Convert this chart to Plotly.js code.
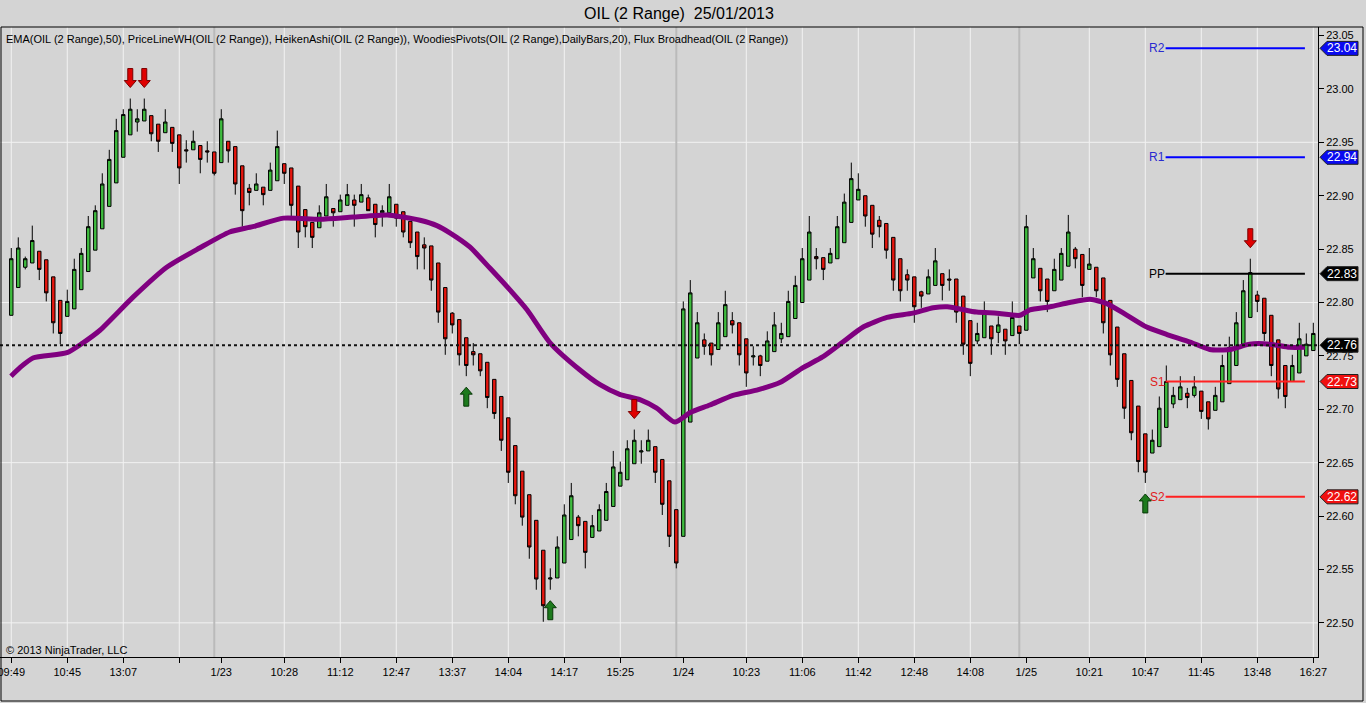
<!DOCTYPE html>
<html><head><meta charset="utf-8">
<script src="https://cdn.plot.ly/plotly-3.0.1.min.js"></script>
<style>html,body{margin:0;padding:0;background:#d4d4d4;overflow:hidden}#chart{width:1366px;height:703px}</style>
</head><body><div id="chart"></div>
<script>
// Heiken Ashi bars (OIL 2 Range)
const opens = [22.788,22.814,22.833,22.837,22.848,22.840,22.824,22.802,22.787,22.794,22.812,22.829,22.849,22.869,22.890,22.912,22.936,22.957,22.969,22.970,
22.975,22.967,22.959,22.964,22.957,22.943,22.943,22.947,22.942,22.941,22.931,22.951,22.946,22.928,22.907,22.905,22.908,22.905,22.914,22.930,
22.926,22.909,22.887,22.875,22.870,22.881,22.888,22.885,22.891,22.896,22.894,22.898,22.892,22.884,22.884,22.892,22.885,22.876,22.866,22.854,
22.853,22.837,22.814,22.790,22.784,22.767,22.754,22.752,22.744,22.728,22.712,22.692,22.666,22.642,22.620,22.596,22.568,22.541,22.542,22.556,
22.578,22.599,22.595,22.580,22.586,22.596,22.609,22.628,22.634,22.649,22.660,22.661,22.665,22.653,22.633,22.606,22.581,22.688,22.748,22.765,
22.762,22.756,22.768,22.783,22.781,22.766,22.749,22.750,22.745,22.754,22.766,22.768,22.785,22.800,22.821,22.843,22.842,22.837,22.841,22.856,
22.875,22.896,22.900,22.891,22.877,22.874,22.861,22.841,22.826,22.824,22.810,22.808,22.816,22.827,22.822,22.822,22.806,22.783,22.764,22.767,
22.778,22.772,22.775,22.769,22.778,22.774,22.823,22.832,22.822,22.811,22.821,22.834,22.850,22.845,22.831,22.833,22.823,22.802,22.777,22.752,
22.727,22.703,22.677,22.659,22.665,22.683,22.705,22.709,22.715,22.713,22.717,22.707,22.699,22.707,22.724,22.741,22.761,22.786,22.807,22.804,
22.788,22.765,22.741,22.726,22.734,22.750,22.755];
const highs = [22.851,22.861,22.843,22.872,22.848,22.840,22.824,22.802,22.812,22.841,22.851,22.881,22.891,22.921,22.943,22.972,22.981,22.991,22.981,22.991,
22.975,22.967,22.981,22.964,22.957,22.952,22.961,22.947,22.951,22.941,22.981,22.951,22.946,22.928,22.911,22.921,22.908,22.931,22.961,22.930,
22.926,22.909,22.887,22.875,22.891,22.911,22.888,22.901,22.911,22.901,22.911,22.901,22.892,22.891,22.911,22.892,22.885,22.876,22.866,22.861,
22.853,22.837,22.814,22.791,22.784,22.767,22.762,22.752,22.744,22.728,22.712,22.692,22.666,22.642,22.620,22.596,22.568,22.551,22.581,22.611,
22.631,22.601,22.595,22.601,22.611,22.631,22.661,22.651,22.671,22.681,22.671,22.681,22.665,22.653,22.633,22.606,22.801,22.821,22.791,22.771,
22.762,22.791,22.811,22.791,22.781,22.766,22.759,22.751,22.773,22.791,22.781,22.811,22.825,22.851,22.881,22.851,22.842,22.851,22.881,22.902,
22.931,22.921,22.900,22.891,22.881,22.874,22.861,22.841,22.831,22.824,22.811,22.831,22.851,22.827,22.831,22.822,22.806,22.783,22.781,22.801,
22.778,22.787,22.775,22.801,22.778,22.882,22.851,22.832,22.822,22.841,22.851,22.882,22.852,22.845,22.851,22.833,22.823,22.802,22.777,22.752,
22.727,22.703,22.677,22.681,22.712,22.741,22.721,22.731,22.720,22.731,22.717,22.707,22.721,22.751,22.768,22.791,22.821,22.841,22.811,22.804,
22.788,22.765,22.741,22.751,22.781,22.771,22.781];
const lows = [22.788,22.814,22.831,22.837,22.821,22.801,22.771,22.761,22.787,22.794,22.812,22.829,22.849,22.869,22.890,22.912,22.936,22.957,22.960,22.970,
22.951,22.941,22.959,22.941,22.911,22.931,22.943,22.921,22.931,22.919,22.931,22.931,22.901,22.871,22.891,22.905,22.891,22.905,22.914,22.911,
22.881,22.851,22.861,22.851,22.870,22.881,22.871,22.885,22.891,22.871,22.894,22.886,22.861,22.871,22.884,22.871,22.861,22.851,22.831,22.831,
22.811,22.781,22.751,22.771,22.741,22.731,22.741,22.731,22.701,22.691,22.661,22.631,22.611,22.591,22.560,22.531,22.501,22.531,22.542,22.556,
22.578,22.581,22.551,22.580,22.586,22.596,22.609,22.628,22.634,22.649,22.649,22.661,22.631,22.601,22.571,22.551,22.581,22.688,22.748,22.751,
22.741,22.756,22.768,22.771,22.741,22.721,22.741,22.731,22.745,22.754,22.762,22.768,22.785,22.800,22.821,22.831,22.821,22.837,22.841,22.856,
22.875,22.896,22.871,22.851,22.861,22.841,22.811,22.801,22.811,22.781,22.795,22.808,22.816,22.802,22.811,22.781,22.751,22.731,22.761,22.767,
22.751,22.762,22.751,22.769,22.761,22.774,22.823,22.801,22.791,22.811,22.821,22.834,22.832,22.805,22.831,22.805,22.771,22.741,22.721,22.691,
22.671,22.641,22.631,22.659,22.665,22.683,22.701,22.709,22.701,22.711,22.691,22.681,22.699,22.707,22.724,22.741,22.761,22.786,22.791,22.764,
22.731,22.710,22.701,22.726,22.734,22.750,22.755];
const closes = [22.841,22.851,22.841,22.858,22.831,22.809,22.781,22.771,22.801,22.831,22.846,22.871,22.886,22.911,22.934,22.961,22.976,22.981,22.972,22.981,
22.958,22.951,22.969,22.949,22.926,22.942,22.951,22.934,22.941,22.921,22.972,22.942,22.911,22.886,22.903,22.911,22.901,22.924,22.946,22.921,
22.891,22.866,22.871,22.861,22.884,22.899,22.884,22.896,22.901,22.891,22.901,22.886,22.873,22.886,22.899,22.879,22.866,22.856,22.843,22.851,
22.821,22.791,22.766,22.779,22.751,22.741,22.751,22.736,22.711,22.696,22.671,22.641,22.619,22.599,22.571,22.541,22.516,22.542,22.571,22.601,
22.619,22.591,22.566,22.591,22.606,22.623,22.646,22.641,22.663,22.671,22.661,22.671,22.641,22.611,22.581,22.556,22.794,22.809,22.781,22.759,
22.751,22.781,22.798,22.779,22.751,22.734,22.750,22.741,22.764,22.779,22.771,22.801,22.816,22.841,22.866,22.841,22.831,22.846,22.871,22.894,
22.916,22.906,22.881,22.864,22.871,22.849,22.821,22.811,22.821,22.796,22.806,22.824,22.839,22.816,22.821,22.791,22.761,22.743,22.771,22.790,
22.766,22.779,22.764,22.786,22.771,22.871,22.841,22.811,22.801,22.831,22.846,22.866,22.841,22.816,22.836,22.811,22.781,22.751,22.728,22.701,
22.678,22.651,22.641,22.671,22.701,22.726,22.713,22.721,22.711,22.721,22.698,22.691,22.713,22.741,22.758,22.781,22.811,22.828,22.801,22.771,
22.741,22.719,22.712,22.741,22.766,22.761,22.771];

// EMA(50) (bar position, value)
const emaBar = [0.96,2.24,4.1,8.96,11.2,13.67,18.4,23.2,27.9,32.2,35.5,39.9,45.1,49.8,54.7,56.9,59.4,61.8,63.7,66.5,69.4,72.2,74.7,78,82.2,85.1,87.9,90.8,93.2,95.8,98,100.8,104.1,107.5,110.8,114.1,116.9,119.8,122.7,126.1,129.8,132.7,134.7,138.9,141.8,145.1,146.5,149.4,152.2,155.1,157.5,160.4,163.2,166.1,169.4,172.2,175.1,177.9,180.8,183.6,185.8];
const emaVal = [22.731,22.739,22.748,22.753,22.762,22.774,22.805,22.833,22.851,22.866,22.871,22.879,22.878,22.880,22.882,22.880,22.877,22.872,22.865,22.852,22.832,22.812,22.793,22.762,22.737,22.723,22.714,22.709,22.701,22.688,22.697,22.704,22.713,22.718,22.725,22.739,22.749,22.763,22.777,22.786,22.790,22.795,22.796,22.791,22.790,22.788,22.793,22.796,22.800,22.803,22.799,22.788,22.777,22.770,22.763,22.756,22.756,22.761,22.761,22.758,22.758];

// X axis ticks
const tickBars = [1,9,17,25,31,40,48,56,64,72,80,88,97,106,114,122,130,138,146,155,163,171,179,187];
const tickLabels = ['09:49','10:45','13:07','','1/23','10:28','11:12','12:47','13:37','14:04','14:17','15:25','1/24','10:23','11:06','11:42','12:48','14:08','1/25','10:21','10:47','11:45','13:48','16:27'];
const sessionBreakBars = [30,96,145];
const gridPrices = [22.50,22.65,22.80,22.95];

// Woodies pivots
const pivotNames = ['R2','R1','PP','S1','S2'];
const pivotVals = [23.038,22.936,22.827,22.726,22.618];
const lastPrice = 22.76;

// Signal arrows (bar numbers)
const arrowDownBars = [18,20,90,178];
const arrowUpBars = [66,78,163];

const xs = opens.map((_, i) => i + 1);
const pivotLine = {R2:'#0000ff',R1:'#0000ff',PP:'#000000',S1:'#ff2020',S2:'#ff2020'};
const pivotText = {R2:'#2a2ad0',R1:'#2a2ad0',PP:'#000000',S1:'#e02020',S2:'#e02020'};
const flagFill = {R2:'#0a0af0',R1:'#0a0af0',PP:'#000000',S1:'#f01010',S2:'#f01010'};

const traces = [
  {type:'candlestick', x:xs, open:opens, high:highs, low:lows, close:closes,
   increasing:{line:{color:'#000000',width:1}, fillcolor:'#3fbc3f'},
   decreasing:{line:{color:'#000000',width:1}, fillcolor:'#e5160e'},
   whiskerwidth:0, hoverinfo:'skip', showlegend:false},
  {type:'scatter', mode:'lines', x:emaBar, y:emaVal,
   line:{color:'#800080', width:5, shape:'spline', smoothing:0.6}, hoverinfo:'skip', showlegend:false}
];

const shapes = [];
const annotations = [];
// gridlines
gridPrices.forEach(p => shapes.push({type:'line', layer:'below', xref:'paper', x0:0, x1:1, yref:'y', y0:p, y1:p, line:{color:'#f2f2f2', width:1}}));
tickBars.forEach((b, i) => { if (tickLabels[i].indexOf('/') < 0) shapes.push({type:'line', layer:'below', xref:'x', x0:b, x1:b, yref:'paper', y0:0, y1:1, line:{color:'#f2f2f2', width:1}}); });
sessionBreakBars.forEach(b => shapes.push({type:'line', layer:'below', xref:'x', x0:b, x1:b, yref:'paper', y0:0, y1:1, line:{color:'#bababa', width:2}}));
// last price dotted line
shapes.push({type:'line', layer:'above', xref:'paper', x0:0, x1:1, yref:'y', y0:lastPrice, y1:lastPrice, line:{color:'#111111', width:2, dash:'dot'}});
// pivot lines & labels
const pivStart = 165.9, pivEnd = 185.8;
pivotNames.forEach((n, i) => {
  shapes.push({type:'line', layer:'above', xref:'x', x0:pivStart, x1:pivEnd, yref:'y', y0:pivotVals[i], y1:pivotVals[i], line:{color:pivotLine[n], width:2}});
  annotations.push({xref:'x', x:pivStart, yref:'y', y:pivotVals[i], text:n, showarrow:false, xanchor:'right', yanchor:'middle', xshift:1,
    font:{family:'Liberation Sans, Arial, sans-serif', size:12, color:pivotText[n]}});
});
// price flags
const flags = pivotNames.map((n, i) => ({v:pivotVals[i], c:flagFill[n]}));
flags.push({v:lastPrice, c:'#000000'});
flags.forEach(f => {
  shapes.push({type:'path', layer:'above', xref:'paper', yref:'y', xsizemode:'pixel', ysizemode:'pixel', xanchor:1, yanchor:f.v,
    path:'M 2,0 L 9,7 L 40,7 L 40,-7 L 9,-7 Z', fillcolor:f.c, line:{color:'#202020', width:1}});
  annotations.push({xref:'paper', x:1, xshift:24, yref:'y', y:f.v, text:f.v.toFixed(2), showarrow:false, xanchor:'center', yanchor:'middle',
    font:{family:'Liberation Sans, Arial, sans-serif', size:12, color:'#ffffff'}});
});
// arrows
arrowDownBars.forEach(b => shapes.push({type:'path', layer:'above', xref:'x', yref:'y', xsizemode:'pixel', ysizemode:'pixel', xanchor:b, yanchor:highs[b-1],
  path:'M -2.5,30 L 2.5,30 L 2.5,18 L 6,18 L 0,11 L -6,18 L -2.5,18 Z', fillcolor:'#e00000', line:{color:'#7a0000', width:1}}));
arrowUpBars.forEach(b => shapes.push({type:'path', layer:'above', xref:'x', yref:'y', xsizemode:'pixel', ysizemode:'pixel', xanchor:b, yanchor:lows[b-1],
  path:'M -2.5,-30 L 2.5,-30 L 2.5,-18 L 6,-18 L 0,-11 L -6,-18 L -2.5,-18 Z', fillcolor:'#1d7a1d', line:{color:'#083808', width:1}}));
// outer frame
shapes.push({type:'rect', layer:'above', xref:'paper', yref:'paper', x0:1/1318, x1:1363/1318, y0:(657-701)/630, y1:1, line:{color:'#000000', width:1}, fillcolor:'rgba(0,0,0,0)'});

annotations.push({xref:'paper', x:4/1318, yref:'paper', y:(657-39)/630, text:'EMA(OIL (2 Range),50), PriceLineWH(OIL (2 Range)), HeikenAshi(OIL (2 Range)), WoodiesPivots(OIL (2 Range),DailyBars,20), Flux Broadhead(OIL (2 Range))',
  showarrow:false, xanchor:'left', yanchor:'middle', font:{family:'Liberation Sans, Arial, sans-serif', size:11, color:'#000000'}});
annotations.push({xref:'paper', x:4/1318, yref:'paper', y:(657-650)/630, text:'© 2013 NinjaTrader, LLC',
  showarrow:false, xanchor:'left', yanchor:'middle', font:{family:'Liberation Sans, Arial, sans-serif', size:11, color:'#000000'}});

const layout = {
  width:1366, height:703,
  margin:{l:0, r:48, t:27, b:46, pad:0},
  paper_bgcolor:'#d4d4d4', plot_bgcolor:'#d4d4d4',
  title:{text:'OIL (2 Range) \u00a025/01/2013', x:679/1366, xref:'container', xanchor:'center', y:1-13/703, yref:'container', yanchor:'middle',
    font:{family:'Liberation Sans, Arial, sans-serif', size:16, color:'#000000'}},
  showlegend:false,
  xaxis:{range:[-0.61,187.67], tickmode:'array', tickvals:tickBars, ticktext:tickLabels, ticks:'outside', ticklen:5, tickcolor:'#000000',
    showline:true, linecolor:'#000000', linewidth:1, showgrid:false, zeroline:false, rangeslider:{visible:false}, fixedrange:true,
    ticklabeloverflow:'allow',
    tickfont:{family:'Liberation Sans, Arial, sans-serif', size:11, color:'#000000'}},
  yaxis:{side:'right', range:[22.468,23.058], tick0:22.5, dtick:0.05, tickformat:'.2f', ticks:'outside', ticklen:5, tickcolor:'#000000',
    showline:true, linecolor:'#000000', linewidth:1, showgrid:false, zeroline:false, fixedrange:true,
    tickfont:{family:'Liberation Sans, Arial, sans-serif', size:11, color:'#000000'}},
  shapes:shapes, annotations:annotations
};
Plotly.newPlot('chart', traces, layout, {displayModeBar:false, staticPlot:true});
</script></body></html>
